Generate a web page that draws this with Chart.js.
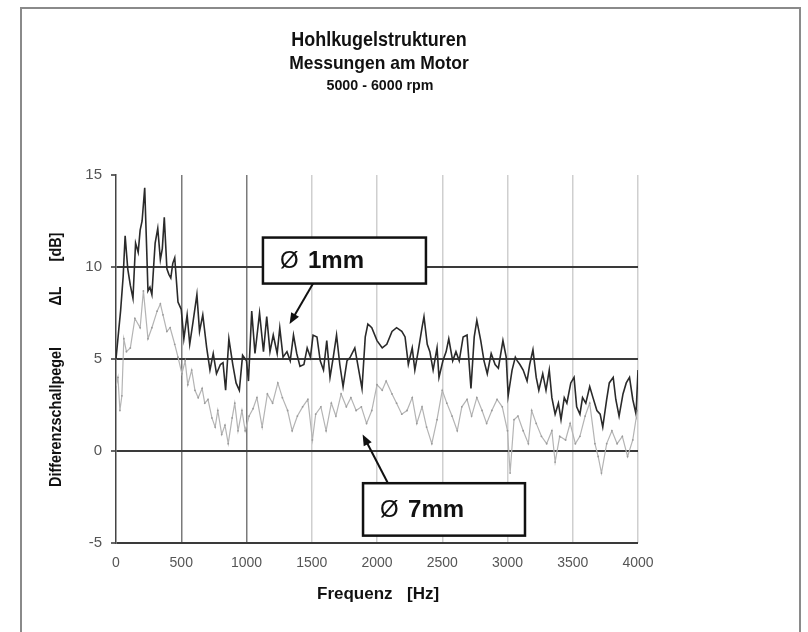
<!DOCTYPE html>
<html>
<head>
<meta charset="utf-8">
<script src="https://cdn.jsdelivr.net/npm/chart.js@4"></script>
<style>
  html, body { margin: 0; padding: 0; background: #fff; }
  #wrap { position: relative; width: 808px; height: 632px; }
  #frame { position: absolute; left: 20px; top: 7px; width: 781px; height: 640px; border: 2px solid #8a8a8a; box-sizing: border-box; }
  canvas { position: absolute; left: 0; top: 0; }
</style>
</head>
<body>
<div id="wrap">
  <div id="frame"></div>
  <canvas id="chart" width="808" height="632"></canvas>
</div>
<script>
/* ---------- Data ---------- */
const titleLines = ['Hohlkugelstrukturen', 'Messungen am Motor', '5000 - 6000 rpm'];
const xLabelParts = ['Frequenz', '[Hz]'];
const yLabelParts = ['Differenzschallpegel', '\u0394L', '[dB]'];
const xTicks = [0, 500, 1000, 1500, 2000, 2500, 3000, 3500, 4000];
const yTicks = [-5, 0, 5, 10, 15];

// Ø 1mm
const freq1mm = [0,20,35,55,70,90,110,130,150,170,185,200,220,235,245,260,275,290,300,320,340,355,370,390,405,420,435,450,475,500,
  520,545,565,590,620,640,665,695,720,745,770,800,820,840,865,895,920,945,970,1000,1015,1040,1065,1100,1130,1155,1180,1205,1235,1255,
  1280,1310,1335,1360,1385,1410,1440,1465,1490,1510,1540,1565,1590,1615,1640,1665,1690,1715,1740,1770,1795,1830,1855,1885,1910,1930,1960,2000,
  2040,2075,2115,2150,2190,2215,2240,2270,2290,2315,2345,2360,2385,2405,2430,2460,2475,2505,2530,2550,2580,2605,2630,2660,2690,2720,2745,2765,
  2795,2820,2845,2875,2905,2930,2965,2990,3005,3035,3060,3075,3095,3120,3150,3170,3195,3220,3240,3270,3295,3320,3340,3365,3390,3410,3435,3455,
  3485,3510,3530,3555,3575,3600,3630,3655,3685,3710,3730,3760,3780,3810,3830,3855,3885,3910,3935,3960,3985,4000];
const level1mm = [5.0,6.5,7.6,9.5,11.7,9.9,9.0,8.3,11.3,10.8,12.0,12.5,14.3,11.0,8.7,8.9,8.5,10.2,11.3,12.1,10.4,11.0,12.7,9.9,9.6,9.4,10.2,10.5,8.1,7.7,
  6.1,7.4,5.8,7.0,8.5,6.5,7.4,5.6,4.4,5.3,4.2,4.7,4.8,3.3,6.1,4.7,3.7,3.3,5.2,4.9,3.8,7.6,5.3,7.5,5.4,7.3,5.4,6.3,5.3,6.7,
  5.1,5.4,4.9,6.3,5.3,4.6,4.7,5.6,5.1,6.3,6.2,4.9,4.4,6.0,4.0,5.1,6.3,4.7,3.5,4.9,5.1,5.6,4.6,3.4,6.2,6.9,6.7,6.0,
  5.6,5.8,6.5,6.7,6.5,6.2,4.7,5.6,4.4,5.4,6.7,7.3,5.8,5.4,4.4,5.6,4.0,4.9,5.4,6.1,4.9,5.4,4.9,6.2,6.3,3.4,6.2,7.1,
  6.0,4.9,4.2,5.3,4.7,4.5,6.0,5.1,3.0,4.4,5.1,4.9,4.7,4.4,3.8,4.7,5.5,4.0,3.3,4.2,3.3,4.4,2.9,2.0,2.6,1.7,2.9,2.6,
  3.7,4.0,2.4,2.0,2.9,2.6,3.5,2.9,2.2,2.0,1.3,2.8,3.7,4.0,2.8,1.9,3.1,3.7,4.0,2.8,2.0,4.4];

// Ø 7mm
const freq7mm = [0,15,30,45,60,80,110,145,185,210,245,275,315,340,360,390,415,450,475,505,530,550,580,605,630,660,680,705,735,760,
  780,810,835,860,890,910,935,965,990,1020,1050,1080,1120,1160,1200,1240,1275,1315,1350,1390,1430,1470,1505,1530,1570,1610,1650,1685,1725,1765,
  1800,1840,1880,1920,1960,2000,2040,2070,2115,2150,2190,2230,2270,2305,2345,2380,2420,2460,2500,2535,2575,2615,2650,2690,2725,2765,2805,2840,
  2880,2920,2960,3000,3020,3050,3080,3120,3160,3185,3220,3260,3300,3340,3365,3400,3445,3480,3520,3555,3595,3630,3670,3695,3720,3760,3800,3840,
  3880,3920,3960,3995];
const level7mm = [3.5,4.0,2.2,3.0,6.1,5.4,5.6,7.2,6.7,8.7,6.1,6.7,7.6,8.0,7.4,6.5,6.7,5.8,5.1,4.2,4.9,3.6,4.4,3.3,2.9,3.4,2.6,2.8,1.8,1.3,
  2.2,0.9,1.4,0.4,1.8,2.6,1.1,2.2,1.1,1.9,2.3,2.9,1.3,3.1,2.6,3.7,2.9,2.2,1.1,1.9,2.4,2.8,0.6,2.0,2.4,1.1,2.6,1.9,3.1,2.4,
  2.9,2.2,2.4,1.5,2.2,3.6,3.3,3.8,3.1,2.6,2.0,2.2,2.9,1.5,2.4,1.3,0.4,1.7,3.3,2.6,1.9,1.1,2.4,2.8,1.9,2.9,2.2,1.5,
  2.2,2.8,2.4,1.1,-1.2,1.7,1.9,1.1,0.4,2.2,1.5,0.8,0.4,1.1,-0.6,0.8,0.6,1.5,0.4,0.8,1.9,2.6,0.4,-0.3,-1.2,0.4,1.1,0.4,
  0.8,-0.3,0.6,2.2];

// labelled boxes: box x range (Hz) and y range (dB), arrow start and tip
const labels = [
  { size: '1mm', box: [1126, 2375, 11.6, 9.1], from: [1510, 9.1], to: [1330, 6.9] },
  { size: '7mm', box: [1893, 3134, -1.75, -4.6], from: [2084, -1.75], to: [1890, 0.9] }
];

const FONT = '"Liberation Sans", Arial, Helvetica, sans-serif';

// slightly condensed bold text: normal glyphs squeezed along the baseline
function narrowText(ctx, text, x, y, size, squeeze) {
  ctx.save();
  ctx.translate(x, y);
  ctx.scale(squeeze, 1);
  ctx.font = 'bold ' + size + 'px ' + FONT;
  ctx.fillText(text, 0, 0);
  ctx.restore();
}

/* ---------- Text + boxes drawn on top ---------- */
const decor = {
  id: 'decor',
  afterDraw(chart) {
    const ctx = chart.ctx;
    const xs = chart.scales.x, ys = chart.scales.y;
    ctx.save();
    ctx.fillStyle = '#111';
    ctx.textAlign = 'center';
    ctx.textBaseline = 'middle';
    narrowText(ctx, titleLines[0], 379, 41, 19.5, 0.92);
    narrowText(ctx, titleLines[1], 379, 64, 19, 0.92);
    narrowText(ctx, titleLines[2], 380, 86, 15.5, 0.92);

    // x axis title
    ctx.textAlign = 'left';
    ctx.font = 'bold 17px ' + FONT;
    ctx.fillText(xLabelParts[0], 317, 594);
    ctx.fillText(xLabelParts[1], 407, 594);

    // y axis title, rotated
    ctx.save();
    ctx.translate(57, 0);
    ctx.rotate(-Math.PI / 2);
    ctx.textAlign = 'center';
    narrowText(ctx, yLabelParts[0], -417, 0, 16, 0.9);
    narrowText(ctx, yLabelParts[1], -296, 0, 16, 0.9);
    narrowText(ctx, yLabelParts[2], -247, 0, 16, 0.9);
    ctx.restore();

    labels.forEach(l => {
      const x1 = xs.getPixelForValue(l.box[0]), x2 = xs.getPixelForValue(l.box[1]);
      const y1 = ys.getPixelForValue(l.box[2]), y2 = ys.getPixelForValue(l.box[3]);
      ctx.fillStyle = '#fff';
      ctx.fillRect(x1, y1, x2 - x1, y2 - y1);
      ctx.lineWidth = 2.5;
      ctx.strokeStyle = '#111';
      ctx.strokeRect(x1, y1, x2 - x1, y2 - y1);
      ctx.fillStyle = '#111';
      ctx.textAlign = 'left';
      const ty = (y1 + y2) / 2 + 1;
      ctx.font = '24px ' + FONT;
      ctx.fillText('\u00D8', x1 + 17, ty);
      ctx.font = 'bold 24px ' + FONT;
      ctx.fillText(l.size, x1 + 45, ty);

      // arrow
      const ax = xs.getPixelForValue(l.from[0]), ay = ys.getPixelForValue(l.from[1]);
      const bx = xs.getPixelForValue(l.to[0]), by = ys.getPixelForValue(l.to[1]);
      const ang = Math.atan2(by - ay, bx - ax);
      ctx.lineWidth = 2;
      ctx.beginPath();
      ctx.moveTo(ax, ay);
      ctx.lineTo(bx - 6 * Math.cos(ang), by - 6 * Math.sin(ang));
      ctx.stroke();
      ctx.beginPath();
      ctx.moveTo(bx, by);
      ctx.lineTo(bx - 11 * Math.cos(ang) + 4.5 * Math.sin(ang), by - 11 * Math.sin(ang) - 4.5 * Math.cos(ang));
      ctx.lineTo(bx - 11 * Math.cos(ang) - 4.5 * Math.sin(ang), by - 11 * Math.sin(ang) + 4.5 * Math.cos(ang));
      ctx.closePath();
      ctx.fill();
    });
    ctx.restore();
  }
};

/* ---------- Chart ---------- */
const toPoints = (xs, ys) => xs.map((x, i) => ({ x, y: ys[i] }));

new Chart(document.getElementById('chart'), {
  type: 'line',
  data: {
    datasets: [
      {
        label: '\u00D8 7mm',
        data: toPoints(freq7mm, level7mm),
        borderColor: '#b4b4b4',
        borderWidth: 1.2,
        pointRadius: 0.9,
        pointBackgroundColor: '#9a9a9a',
        pointBorderWidth: 0,
        tension: 0
      },
      {
        label: '\u00D8 1mm',
        data: toPoints(freq1mm, level1mm),
        borderColor: '#2a2a2a',
        borderWidth: 1.6,
        pointRadius: 0,
        tension: 0
      }
    ]
  },
  options: {
    responsive: false,
    animation: false,
    layout: { padding: { left: 0, top: 175, right: 170, bottom: 0 } },
    plugins: { legend: { display: false }, tooltip: { enabled: false } },
    scales: {
      x: {
        type: 'linear',
        min: 0, max: 4000,
        afterFit: s => { s.height = 89; },
        afterBuildTicks: s => { s.ticks = xTicks.map(v => ({ value: v })); },
        ticks: { color: '#555', font: { family: FONT, size: 14 }, padding: 12, maxRotation: 0, callback: v => String(v) },
        grid: {
          color: c => c.tick.value === 0 ? 'rgba(0,0,0,0)' : (c.tick.value <= 1000 ? '#7a7a7a' : '#cfcfcf'),
          lineWidth: 1.5,
          drawTicks: false
        },
        border: { display: false }
      },
      y: {
        min: -5, max: 15,
        afterFit: s => { s.width = 116; },
        afterBuildTicks: s => { s.ticks = yTicks.map(v => ({ value: v })); },
        ticks: { color: '#555', font: { family: FONT, size: 15 }, padding: 9, callback: v => String(v) },
        grid: {
          color: c => c.tick.value === 15 ? 'rgba(0,0,0,0)' : '#3a3a3a',
          tickColor: '#666',
          tickLength: 5,
          lineWidth: 2
        },
        border: { display: true, color: '#444', width: 1.5 }
      }
    }
  },
  plugins: [decor]
});
</script>
</body>
</html>
